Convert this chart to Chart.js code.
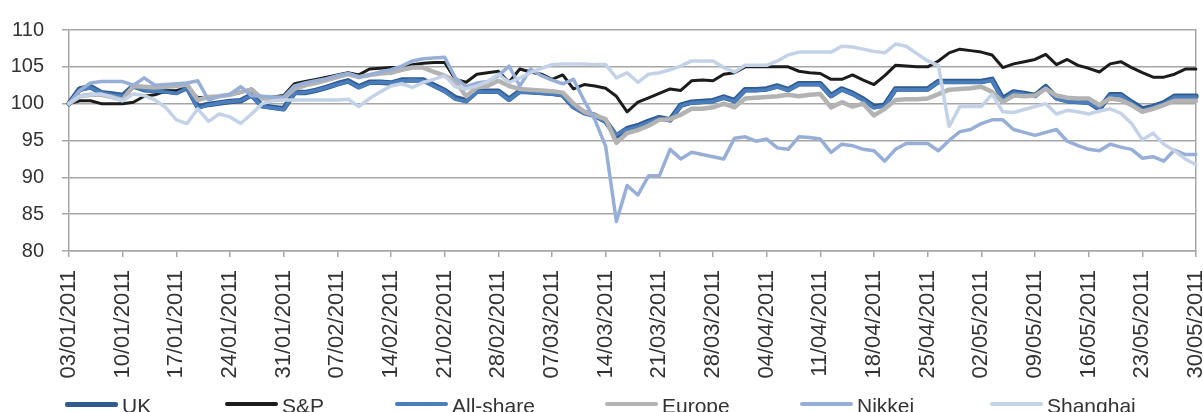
<!DOCTYPE html>
<html>
<head>
<meta charset="utf-8">
<script src="https://cdn.jsdelivr.net/npm/chart.js@4.4.1/dist/chart.umd.min.js"></script>
<style>
  html, body { margin: 0; padding: 0; background: #fff; overflow: hidden; }
  #wrap { position: relative; width: 1203px; height: 412px; }
  #legend { position: absolute; left: 0; top: 396px; width: 1203px; height: 20px;
            font-family: "Liberation Sans", Arial, sans-serif; font-size: 21px; line-height: 20px; color: #333; }
  .item { position: absolute; top: 0; white-space: nowrap; }
  .sym { position: absolute; top: 6px; height: 4px; width: 53px; border-radius: 2px; }
  .lbl { position: absolute; top: 0; }
</style>
</head>
<body>
<div id="wrap">
  <canvas id="chart"></canvas>
  <div id="legend"></div>
</div>
<script>
// weekly tick labels (every 5th trading day)
const weekLabels = ['03/01/2011','10/01/2011','17/01/2011','24/01/2011','31/01/2011','07/02/2011',
  '14/02/2011','21/02/2011','28/02/2011','07/03/2011','14/03/2011','21/03/2011','28/03/2011',
  '04/04/2011','11/04/2011','18/04/2011','25/04/2011','02/05/2011','09/05/2011','16/05/2011',
  '23/05/2011','30/05/2011'];

// weekday categories from 03/01/2011 to 30/05/2011
const days = [];
for (let d = new Date(2011, 0, 3); d <= new Date(2011, 4, 30); d.setDate(d.getDate() + 1)) {
  if (d.getDay() === 0 || d.getDay() === 6) continue;
  days.push(String(d.getDate()).padStart(2, '0') + '/' + String(d.getMonth() + 1).padStart(2, '0') + '/2011');
}

const seriesNames = ['UK', 'S&P', 'All-share', 'Europe', 'Nikkei', 'Shanghai'];

const uk = [100.0,102.0,102.3,101.5,101.3,101.1,102.4,101.9,101.8,101.7,
  101.5,102.2,99.6,99.9,100.1,100.3,100.4,101.2,99.7,99.5,
  99.3,101.5,101.5,101.8,102.2,102.7,103.1,102.3,102.9,102.9,
  102.8,103.2,103.2,103.2,102.5,101.8,100.8,100.4,101.7,101.7,
  101.7,100.6,101.7,101.6,101.5,101.4,101.2,99.6,98.8,98.4,
  97.6,95.6,96.6,97.0,97.6,98.1,97.8,99.8,100.2,100.3,
  100.4,100.9,100.4,101.9,101.9,102.0,102.4,101.9,102.7,102.7,
  102.7,101.1,102.0,101.4,100.6,99.6,99.8,102.0,102.0,102.0,
  102.0,103.0,103.0,103.0,103.0,103.0,103.3,100.7,101.6,101.4,
  101.1,102.3,100.8,100.4,100.3,100.2,99.3,101.2,101.2,100.2,
  99.3,99.6,100.1,101.0,101.0,101.0];

const sp = [100.0,100.4,100.4,100.0,100.0,100.0,100.2,101.0,101.2,101.7,
  101.8,102.0,100.8,100.9,101.0,101.2,101.5,102.0,100.7,100.9,
  101.1,102.7,103.0,103.3,103.6,103.9,104.2,103.9,104.7,104.8,
  104.9,104.9,105.3,105.5,105.6,105.6,103.3,102.9,104.0,104.2,
  104.4,102.9,104.7,104.3,104.0,103.3,103.9,102.0,102.6,102.4,
  102.1,101.0,98.9,100.2,100.8,101.4,102.0,101.8,103.1,103.2,
  103.1,104.0,104.2,105.0,105.0,105.0,105.0,105.0,104.4,104.2,
  104.1,103.3,103.3,103.9,103.2,102.6,103.8,105.2,105.1,105.0,
  105.0,105.8,106.9,107.4,107.2,107.0,106.6,104.9,105.4,105.7,
  106.0,106.7,105.3,106.0,105.2,104.8,104.3,105.4,105.7,104.9,
  104.2,103.6,103.6,104.0,104.7,104.7];

const allShare = [100.0,101.8,102.2,101.5,101.2,101.0,102.3,101.9,101.7,101.6,
  101.4,102.1,99.4,99.8,100.1,100.3,100.4,101.1,99.6,99.4,
  99.2,101.4,101.5,101.8,102.2,102.6,103.0,102.2,102.8,102.9,
  102.8,103.1,103.2,103.1,102.4,101.7,100.6,100.3,101.6,101.6,
  101.6,100.5,101.6,101.5,101.4,101.3,101.1,99.5,98.7,98.3,
  97.5,95.8,96.5,96.9,97.5,98.0,97.7,99.7,100.1,100.2,
  100.3,100.8,100.3,101.8,101.8,101.9,102.3,101.8,102.6,102.6,
  102.6,101.0,101.9,101.3,100.5,99.4,99.7,101.9,101.9,101.9,
  101.9,102.9,102.9,102.9,102.9,102.9,103.2,100.5,101.5,101.3,
  101.0,102.2,100.7,100.3,100.2,100.1,99.4,101.1,101.1,100.1,
  99.1,99.5,100.0,100.9,100.9,100.9];

const europe = [100.0,101.0,101.2,101.2,100.9,100.5,102.4,102.3,102.2,102.3,
  102.4,102.6,100.5,100.9,101.0,101.2,101.6,101.9,100.7,100.7,
  100.7,102.0,102.5,102.8,103.2,103.6,104.0,103.6,103.9,104.1,
  104.2,104.6,104.9,104.9,104.3,103.8,103.0,101.0,102.2,102.4,
  103.1,102.4,102.0,101.9,101.8,101.7,101.5,100.0,98.9,98.4,
  97.9,94.7,96.0,96.4,97.0,97.8,97.9,98.5,99.3,99.3,
  99.5,100.0,99.5,100.7,100.8,100.9,101.0,101.2,101.0,101.2,
  101.3,99.5,100.2,99.6,100.0,98.4,99.3,100.5,100.6,100.6,
  100.7,101.3,101.9,102.0,102.1,102.3,101.6,100.2,101.1,101.0,
  101.1,102.0,101.1,100.8,100.7,100.7,99.8,100.7,100.5,99.8,
  98.9,99.3,99.8,100.4,100.4,100.4];

const nikkei = [100.0,101.8,102.8,103.0,103.0,103.0,102.5,103.5,102.5,102.6,
  102.7,102.8,103.1,100.5,101.0,101.3,102.3,101.1,101.0,100.9,
  100.9,102.4,102.8,103.1,103.4,103.8,104.1,103.6,103.9,104.3,
  104.6,105.1,105.8,106.1,106.2,106.3,103.5,102.3,102.8,103.0,
  103.8,105.1,102.4,104.7,103.8,103.2,102.7,103.3,100.4,97.8,
  94.2,84.0,88.9,87.6,90.2,90.2,93.8,92.5,93.4,93.1,
  92.8,92.5,95.3,95.5,94.9,95.2,94.0,93.8,95.5,95.4,
  95.2,93.4,94.5,94.3,93.8,93.6,92.2,93.8,94.6,94.6,
  94.6,93.6,95.0,96.2,96.5,97.3,97.8,97.8,96.5,96.1,
  95.7,96.1,96.5,94.9,94.3,93.8,93.6,94.5,94.1,93.8,
  92.6,92.8,92.2,93.7,93.1,93.1];

const shanghai = [100.0,101.0,101.2,101.3,100.9,100.4,101.3,101.1,100.5,99.5,
  97.8,97.3,99.3,97.6,98.6,98.2,97.3,98.6,100.0,100.4,
  100.5,100.5,100.5,100.5,100.5,100.5,100.6,99.6,100.7,101.6,
  102.4,102.7,102.2,102.9,103.3,103.8,102.3,102.0,102.4,103.0,
  104.0,102.9,103.5,104.2,104.8,105.3,105.4,105.4,105.4,105.3,
  105.3,103.5,104.2,102.9,104.0,104.2,104.6,105.1,105.8,105.8,
  105.8,104.9,104.3,105.2,105.2,105.2,105.8,106.6,107.0,107.0,
  107.0,107.0,107.8,107.7,107.4,107.1,106.9,108.1,107.8,106.8,
  105.8,105.2,96.9,99.6,99.6,99.6,101.3,98.9,98.8,99.2,
  99.6,100.0,98.6,99.1,98.9,98.6,99.0,99.3,98.7,97.3,
  95.1,96.0,94.5,93.6,92.5,91.7];

const seriesData = [uk, sp, allShare, europe, nikkei, shanghai];
const seriesColors = ['#2f5b8f', '#1c1c1c', '#4a7ebd', '#b3b3b3', '#97afd6', '#c4d2e7'];
const seriesWidths = [5.5, 3, 3.5, 4.5, 3.5, 3.5];

const font = '"Liberation Sans", Arial, sans-serif';
const gridColor = '#a6a6a6';

const datasets = seriesNames.map((name, i) => ({
  label: name,
  data: seriesData[i],
  borderColor: seriesColors[i],
  backgroundColor: seriesColors[i],
  borderWidth: seriesWidths[i],
  pointRadius: 0,
  tension: 0,
  borderJoinStyle: 'round',
  borderCapStyle: 'round',
  order: seriesNames.length - i // later series on top, as in the original
}));

new Chart(document.getElementById('chart'), {
  type: 'line',
  data: { labels: days, datasets: datasets },
  options: {
    responsive: true,
    maintainAspectRatio: false,
    animation: false,
    layout: { padding: { top: 9, right: 0, left: 0, bottom: 0 } },
    plugins: { legend: { display: false }, tooltip: { enabled: false } },
    scales: {
      x: {
        type: 'category',
        offset: false,
        afterBuildTicks: axis => { axis.ticks = axis.ticks.filter(t => t.value % 5 === 0); },
        afterFit: s => { s.height = 161; s.paddingRight = 7; s.paddingLeft = 0; },
        ticks: {
          autoSkip: false, maxRotation: 90, minRotation: 90, padding: 13,
          color: '#333', font: { family: font, size: 22 },
          callback: function (v) { return weekLabels[v / 5]; }
        },
        grid: { drawOnChartArea: false, drawTicks: true, tickLength: 6, color: gridColor, lineWidth: 1.5 },
        border: { color: gridColor, width: 1.5 }
      },
      y: {
        min: 80, max: 110,
        afterFit: s => { s.width = 69; },
        ticks: { stepSize: 5, padding: 18, color: '#333', font: { family: font, size: 20 } },
        grid: { color: gridColor, lineWidth: 1.5, tickLength: 7 },
        border: { color: gridColor, width: 1.5 }
      },
      y2: {
        position: 'right',
        afterFit: s => { s.width = 0; },
        ticks: { display: false },
        grid: { display: false },
        border: { color: gridColor, width: 1.5 }
      }
    }
  }
});

// legend row, laid out like the original
const legendLeft = [65, 225, 395, 605, 800, 990];
const legend = document.getElementById('legend');
seriesNames.forEach((name, i) => {
  const item = document.createElement('div');
  item.className = 'item';
  item.style.left = legendLeft[i] + 'px';
  const sym = document.createElement('span');
  sym.className = 'sym';
  sym.style.background = seriesColors[i];
  sym.style.height = (i === 0 ? 5 : 4) + 'px';
  const lbl = document.createElement('span');
  lbl.className = 'lbl';
  lbl.style.left = '57px';
  lbl.textContent = name;
  item.appendChild(sym);
  item.appendChild(lbl);
  legend.appendChild(item);
});
</script>
</body>
</html>
